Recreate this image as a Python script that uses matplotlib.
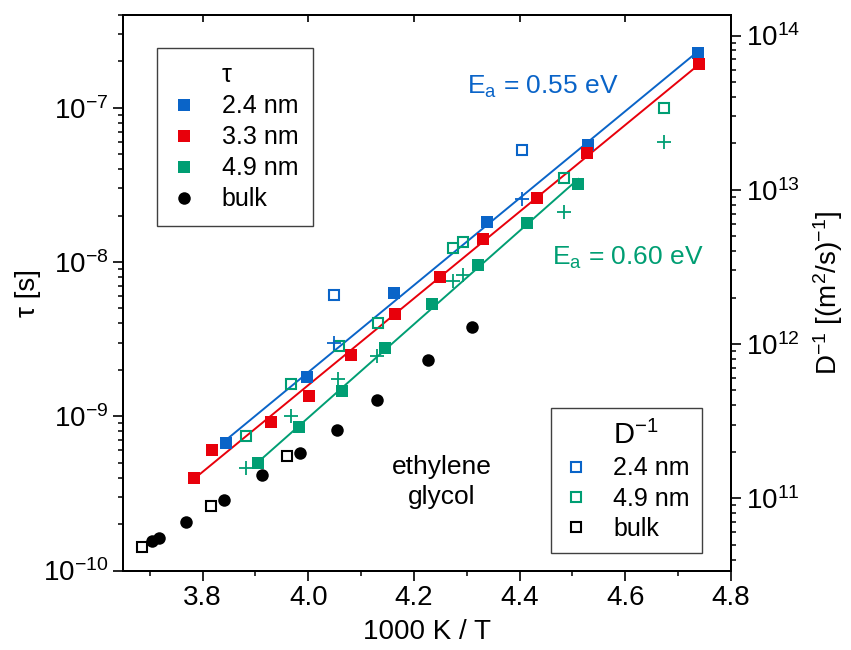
import matplotlib

matplotlib.use("Agg")

import matplotlib.pyplot as plt
import numpy as np
from matplotlib.lines import Line2D
from matplotlib.ticker import LogLocator, MultipleLocator, NullFormatter

plt.rcParams["font.family"] = ["Liberation Sans", "DejaVu Sans"]
plt.rcParams["mathtext.default"] = "regular"
plt.rcParams["axes.unicode_minus"] = False

BLUE = "#0a64c8"
RED = "#e8000b"
GREEN = "#009e73"

# tau [s] vs 1000 K / T (left axis)
x_tau_24 = [3.845, 3.998, 4.162, 4.339, 4.530, 4.737]
tau_24 = [6.71e-10, 1.80e-9, 6.33e-9, 1.82e-8, 5.78e-8, 2.25e-7]

x_tau_33 = [3.783, 3.817, 3.929, 4.002, 4.080, 4.165, 4.249, 4.330, 4.433, 4.527, 4.740]
tau_33 = [3.95e-10, 6.05e-10, 9.20e-10, 1.36e-9, 2.48e-9, 4.63e-9, 8.02e-9,
          1.42e-8, 2.61e-8, 5.11e-8, 1.91e-7]

x_tau_49 = [3.905, 3.982, 4.063, 4.146, 4.234, 4.322, 4.413, 4.511]
tau_49 = [4.98e-10, 8.48e-10, 1.45e-9, 2.79e-9, 5.37e-9, 9.55e-9, 1.78e-8, 3.21e-8]

x_tau_bulk = [3.705, 3.717, 3.769, 3.840, 3.912, 3.984, 4.055, 4.131, 4.227, 4.310]
tau_bulk = [1.56e-10, 1.62e-10, 2.05e-10, 2.87e-10, 4.16e-10, 5.81e-10, 8.17e-10,
            1.28e-9, 2.32e-9, 3.81e-9]

# inverse diffusion coefficient D^-1 [(m^2/s)^-1] (right axis)
x_d_24 = [4.048, 4.405]
d_24 = [2.09e12, 1.81e13]

x_d_49 = [3.882, 3.968, 4.058, 4.132, 4.274, 4.292, 4.484, 4.673]
d_49 = [2.55e11, 5.51e11, 9.66e11, 1.37e12, 4.22e12, 4.58e12, 1.19e13, 3.39e13]

x_d_bulk = [3.686, 3.816, 3.959]
d_bulk = [4.84e10, 8.89e10, 1.88e11]

# second D^-1 estimate (plus markers)
x_p_24 = [4.048, 4.405]
p_24 = [1.02e12, 8.69e12]

x_p_49 = [3.882, 3.967, 4.057, 4.131, 4.274, 4.293, 4.484, 4.674]
p_49 = [1.57e11, 3.39e11, 5.96e11, 8.32e11, 2.56e12, 2.80e12, 7.18e12, 2.05e13]


def arrhenius_fit(x, y):
    coef = np.polyfit(np.asarray(x), np.log10(y), 1)
    xs = np.linspace(min(x), max(x), 50)
    return xs, 10 ** np.polyval(coef, xs)


fig = plt.figure(figsize=(8.51, 6.5), dpi=100)
ax = fig.add_axes([0.1449, 0.1223, 0.7141, 0.8547])
ax2 = ax.twinx()

for x, y, c in [(x_tau_24, tau_24, BLUE), (x_tau_33, tau_33, RED), (x_tau_49, tau_49, GREEN)]:
    xs, ys = arrhenius_fit(x, y)
    ax.plot(xs, ys, color=c, lw=1.4, zorder=2)

sq = dict(ls="none", marker="s", ms=9, mew=0, zorder=3)
ax.plot(x_tau_24, tau_24, color=BLUE, **sq)
ax.plot(x_tau_33, tau_33, color=RED, **sq)
ax.plot(x_tau_49, tau_49, color=GREEN, **sq)
ax.plot(x_tau_bulk, tau_bulk, ls="none", marker="o", ms=9, color="black", mew=0, zorder=3)

osq = dict(ls="none", marker="s", ms=7.5, mfc="none", mew=1.5, zorder=3)
ax2.plot(x_d_24, d_24, mec=BLUE, **osq)
ax2.plot(x_d_49, d_49, mec=GREEN, **osq)
ax2.plot(x_d_bulk, d_bulk, mec="black", **osq)
pl = dict(ls="none", marker="+", ms=10, mew=1.3, zorder=3)
ax2.plot(x_p_24, p_24, color=BLUE, **pl)
ax2.plot(x_p_49, p_49, color=GREEN, **pl)

ax.set_xlim(3.65, 4.8)
ax.set_yscale("log")
ax.set_ylim(1e-10, 4e-7)
ax2.set_yscale("log")
ax2.set_ylim(3.4e10, 1.36e14)

ax.xaxis.set_major_locator(MultipleLocator(0.2))
ax.xaxis.set_minor_locator(MultipleLocator(0.1))
ax.xaxis.set_major_formatter(matplotlib.ticker.FormatStrFormatter("%.1f"))
for a in (ax, ax2):
    a.yaxis.set_major_locator(LogLocator(base=10))
    a.yaxis.set_minor_locator(LogLocator(base=10, subs=np.arange(2, 10)))
    a.yaxis.set_minor_formatter(NullFormatter())
    for s in a.spines.values():
        s.set_linewidth(1.4)

ax.tick_params(axis="both", which="major", direction="out", length=7, width=1.2,
               labelsize=20, top=False, right=False)
ax.tick_params(axis="both", which="minor", direction="out", length=3.5, width=1.1,
               top=False, right=False)
ax2.tick_params(axis="y", which="major", direction="out", length=7, width=1.2, labelsize=20)
ax2.tick_params(axis="y", which="minor", direction="out", length=3.5, width=1.1)

top = ax.secondary_xaxis("top")
top.xaxis.set_major_locator(MultipleLocator(0.2))
top.tick_params(direction="in", length=5, width=1.2, labeltop=False)
top.xaxis.set_minor_locator(matplotlib.ticker.NullLocator())
top.spines["top"].set_linewidth(1.4)

ax.set_xlabel("1000 K / T", fontsize=20, labelpad=6)
ax.set_ylabel("τ [s]", fontsize=20, labelpad=2)
ax2.set_ylabel("D$^{-1}$ [(m$^{2}$/s)$^{-1}$]", fontsize=20, labelpad=8)

ax.text(0.565, 0.871, "E$_{a}$ = 0.55 eV", transform=ax.transAxes, color=BLUE,
        fontsize=19, ha="left", va="center")
ax.text(0.705, 0.562, "E$_{a}$ = 0.60 eV", transform=ax.transAxes, color=GREEN,
        fontsize=19, ha="left", va="center")
ax.text(0.524, 0.159, "ethylene\nglycol", transform=ax.transAxes, fontsize=19,
        ha="center", va="center", linespacing=1.3)

blank = Line2D([], [], ls="none")
h1 = [blank,
      Line2D([], [], ls="none", marker="s", ms=9, color=BLUE, mew=0),
      Line2D([], [], ls="none", marker="s", ms=9, color=RED, mew=0),
      Line2D([], [], ls="none", marker="s", ms=9, color=GREEN, mew=0),
      Line2D([], [], ls="none", marker="o", ms=9, color="black", mew=0)]
leg1 = ax.legend(h1, ["τ", "2.4 nm", "3.3 nm", "4.9 nm", "bulk"], loc="upper left",
                 bbox_to_anchor=(0.055, 0.940), borderaxespad=0, fontsize=18,
                 fancybox=False, framealpha=1, edgecolor="#404040",
                 handlelength=1.0, handletextpad=1.0, labelspacing=0.28,
                 borderpad=0.6)
leg1.get_frame().set_linewidth(1.0)

h2 = [blank,
      Line2D([], [], ls="none", marker="s", ms=7.5, mfc="none", mec=BLUE, mew=1.5),
      Line2D([], [], ls="none", marker="s", ms=7.5, mfc="none", mec=GREEN, mew=1.5),
      Line2D([], [], ls="none", marker="s", ms=7.5, mfc="none", mec="black", mew=1.5)]
leg2 = ax2.legend(h2, ["D$^{-1}$", "2.4 nm", "4.9 nm", "bulk"], loc="lower right",
                  bbox_to_anchor=(0.953, 0.031), borderaxespad=0, fontsize=18,
                  fancybox=False, framealpha=1, edgecolor="#404040",
                  handlelength=1.0, handletextpad=1.0, labelspacing=0.25,
                  borderpad=0.5)
leg2.get_frame().set_linewidth(1.0)
leg2.get_texts()[0].set_fontsize(21)

fig.savefig("out.png", dpi=100, facecolor="white")
